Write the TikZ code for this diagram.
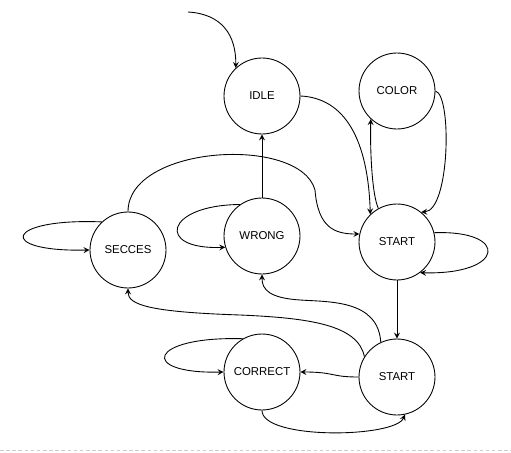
\documentclass[tikz,border=0pt]{standalone}
\usepackage{fontspec}
\setmainfont{Liberation Sans}
\tikzset{statenode/.style={circle,draw,line width=0.5pt,minimum size=1.52cm,inner sep=0pt,font=\fontsize{6.5}{8}\selectfont}}
\begin{document}
\begin{tikzpicture}[x=0.02cm,y=-0.02cm,>=stealth,line width=0.5pt]
	\useasboundingbox (0,0) rectangle (511,453);
	\node[statenode] (idle) at (262,96) {IDLE};
	\node[statenode] (color) at (397,91) {COLOR};
	\node[statenode] (start) at (397,242) {START};
	\node[statenode] (secces) at (128,250) {SECCES};
	\node[statenode] (wrong) at (262,236) {WRONG};
	\node[statenode] (startb) at (397,377) {START};
	\node[statenode] (correct) at (262,372) {CORRECT};
	\coordinate (init) at (188,12);
	\draw[->](init) .. controls (222,14) and (236,35) .. (idle.133);
	\draw[->](idle.east) .. controls (345,98) and (368,140) .. (start.134);
	\draw[->](start.119) .. controls (372,195) and (370,150) .. (color.227);
	\draw[->](color.east) .. controls (452,95) and (450,210) .. (start.51);
	\draw[->](wrong.north) -- (idle.south);
	\draw[->](secces.north) .. controls (128,145) and (300,135) .. (315,190) .. controls (318,228) and (335,234) .. (start.168);
	% self loops
	\draw[->](secces.133) .. controls (5,218) and (-5,252) .. (secces.west);
	\draw[->](wrong.125) .. controls (165,205) and (155,250) .. (wrong.197);
	\draw[->](start.14) .. controls (510,230) and (505,275) .. (start.307);
	\draw[->](correct.120) .. controls (148,336) and (138,374) .. (correct.west);
	\draw[->](start.south) -- (startb.north);
	\draw[->](startb.115) .. controls (378,300) and (330,302) .. (300,300) .. controls (270,298) and (262,290) .. (wrong.south);
	\draw[->](startb.148) .. controls (358,325) and (310,318) .. (240,315) .. controls (150,312) and (128,305) .. (secces.south);
	\draw[->](startb.west) .. controls (330,377) and (335,372) .. (correct.east);
	\draw[->](correct.south) .. controls (262,440) and (395,438) .. (startb.282);
	%page border
	\draw[gray!40,line width=0.4pt,dash pattern=on 2pt off 1.5pt](0,450) -- (511,450);
\end{tikzpicture}
\end{document}
